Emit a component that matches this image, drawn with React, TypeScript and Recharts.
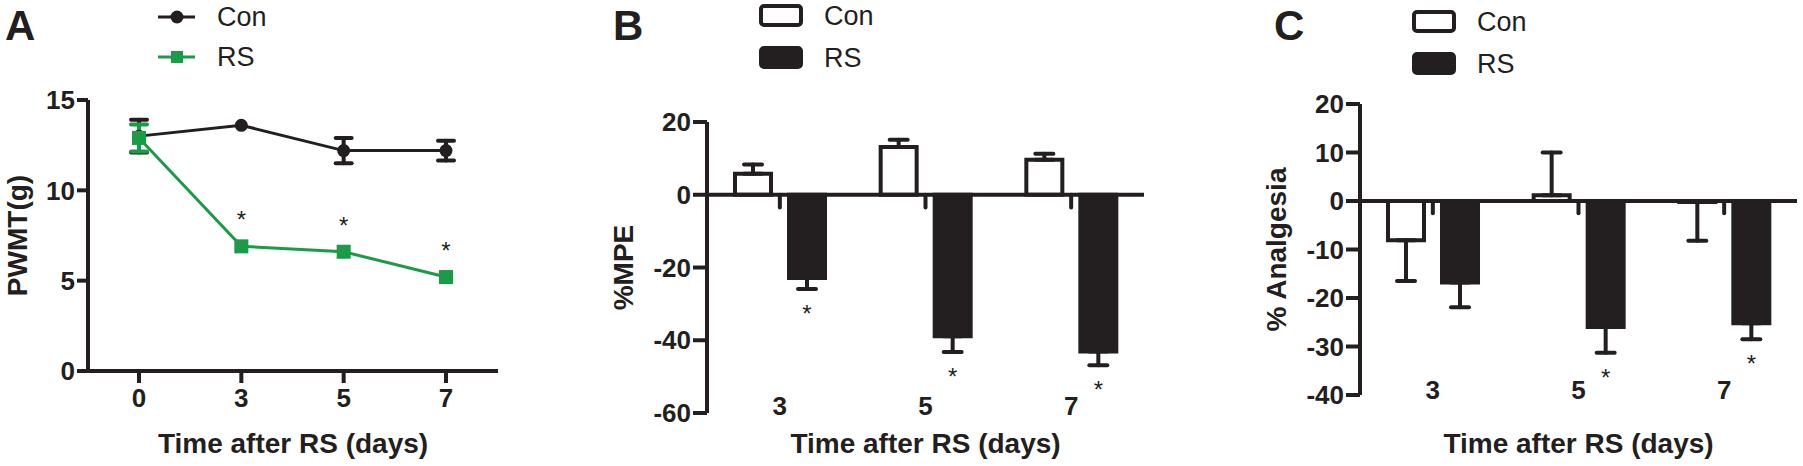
import React from 'react';
import {
  LineChart,
  Line,
  BarChart,
  Bar,
  XAxis,
  YAxis,
  ErrorBar,
  ReferenceLine,
  Legend,
  Label,
  LabelList,
} from 'recharts';

const FONT = "'Liberation Sans', Arial, Helvetica, sans-serif";
const INK = '#231f20';
const GREEN = '#1b9a48';

// ---------- Panel A: PWMT ----------
const daysA = ['0', '3', '5', '7'];
const conPwmt = [13.0, 13.6, 12.2, 12.2];
// null = error bar smaller than the symbol (not drawn in the original)
const conPwmtErr = [0.9, null, 0.7, 0.55];
const rsPwmt = [12.9, 6.9, 6.6, 5.2];
const rsPwmtErr = [0.75, null, null, null];
const rsPwmtSig = [false, true, true, true];
const ticksA = [0, 5, 10, 15];

// ---------- Panel B: %MPE ----------
const daysBC = ['3', '5', '7'];
const conMpe = [5.8, 13.1, 9.6];
const conMpeErr = [2.5, 2.0, 1.7];
const rsMpe = [-22.9, -38.9, -43.1];
const rsMpeErr = [3.0, 4.3, 3.8];
const rsMpeSig = [true, true, true];
const ticksB = [-60, -40, -20, 0, 20];

// ---------- Panel C: % Analgesia ----------
const conAnalgesia = [-8.1, 1.2, -0.2];
const conAnalgesiaErr = [8.4, 8.8, 8.0];
const rsAnalgesia = [-16.8, -26.0, -25.2];
const rsAnalgesiaErr = [5.1, 5.3, 3.3];
const rsAnalgesiaSig = [false, true, true];
const ticksC = [-40, -30, -20, -10, 0, 10, 20];

const seriesNames = ['Con', 'RS'];
const xTitle = 'Time after RS (days)';
const panelLetters = ['A', 'B', 'C'];

const oneSided = (v: number, e: number) => (v >= 0 ? [0, e] : [e, 0]);

const dataA = daysA.map((d, i) => ({
  day: d,
  Con: conPwmt[i],
  conErr: conPwmtErr[i],
  RS: rsPwmt[i],
  rsErr: rsPwmtErr[i],
}));

const buildBars = (con: number[], conE: number[], rs: number[], rsE: number[]) =>
  daysBC.map((d, i) => ({
    day: d,
    Con: con[i],
    conErr: oneSided(con[i], conE[i]),
    RS: rs[i],
    rsErr: oneSided(rs[i], rsE[i]),
  }));

const dataB = buildBars(conMpe, conMpeErr, rsMpe, rsMpeErr);
const dataC = buildBars(conAnalgesia, conAnalgesiaErr, rsAnalgesia, rsAnalgesiaErr);

const tickStyle = { fill: INK, fontSize: 26, fontWeight: 'bold', fontFamily: FONT };
const axisLineStyle = { stroke: INK, strokeWidth: 4 };

const yTitle = (text: string, dist: number) => (props: any) => {
  const vb = props.viewBox || {};
  const cx = vb.x + vb.width - dist;
  const cy = vb.y + vb.height / 2;
  return (
    <text
      x={cx}
      y={cy}
      transform={`rotate(-90 ${cx} ${cy})`}
      textAnchor="middle"
      dy="0.36em"
      fill={INK}
      fontSize={28}
      fontWeight="bold"
      fontFamily={FONT}
    >
      {text}
    </text>
  );
};

const xTitleContent = (dist: number) => (props: any) => {
  const vb = props.viewBox || {};
  return (
    <text
      x={vb.x + vb.width / 2}
      y={vb.y + dist}
      textAnchor="middle"
      fill={INK}
      fontSize={28}
      fontWeight="bold"
      fontFamily={FONT}
    >
      {xTitle}
    </text>
  );
};

const bottomTick = (lift: number) => (props: any) => (
  <text
    x={props.x}
    y={props.y - lift}
    textAnchor="middle"
    dominantBaseline="central"
    fill={INK}
    fontSize={26}
    fontWeight="bold"
    fontFamily={FONT}
  >
    {props.payload.value}
  </text>
);

const star = (x: number, centerY: number) => (
  <text x={x} y={centerY + 14} textAnchor="middle" fill={INK} fontSize={24} fontFamily={FONT}>
    *
  </text>
);

const lineStar = (props: any) => {
  const { x, y, index } = props;
  if (!rsPwmtSig[index] || x == null || y == null) return null;
  return star(x, y - 32);
};

const barStar = (sig: boolean[], errs: number[]) => (props: any) => {
  const { x, y, width, height, index, value } = props;
  if (!sig[index] || x == null) return null;
  const top = Math.min(y, y + height);
  const bottom = Math.max(y, y + height);
  const pxPerUnit = Math.abs(value) > 0 ? (bottom - top) / Math.abs(value) : 0;
  const cap = bottom + errs[index] * pxPerUnit;
  return star(x + width / 2, cap + 19);
};

const ConDot = (p: any) =>
  p.cx == null ? null : <circle key={`c${p.index}`} cx={p.cx} cy={p.cy} r={6.5} fill={INK} />;
const RsDot = (p: any) =>
  p.cx == null ? null : (
    <rect key={`r${p.index}`} x={p.cx - 7} y={p.cy - 7} width={14} height={14} fill={GREEN} />
  );

const legendText = (x: number, y: number, t: string) => (
  <text x={x} y={y} dominantBaseline="central" fill={INK} fontSize={27} fontFamily={FONT}>
    {t}
  </text>
);

const LineLegend = () => (
  <svg width={140} height={80} style={{ display: 'block' }}>
    {seriesNames.map((n, i) => {
      const cy = 17 + 40 * i;
      const c = i === 0 ? INK : GREEN;
      return (
        <g key={n}>
          <line x1={8} y1={cy} x2={45} y2={cy} stroke={c} strokeWidth={3} />
          {i === 0 ? (
            <circle cx={27} cy={cy} r={6.5} fill={c} />
          ) : (
            <rect x={21} y={cy - 6} width={12} height={12} fill={c} />
          )}
          {legendText(67, cy, n)}
        </g>
      );
    })}
  </svg>
);

const BarLegend = () => (
  <svg width={140} height={90} style={{ display: 'block' }}>
    {seriesNames.map((n, i) => {
      const by = 6 + 42 * i;
      return (
        <g key={n}>
          <rect
            x={10}
            y={by}
            width={40}
            height={19}
            rx={3}
            fill={i === 0 ? '#ffffff' : INK}
            stroke={INK}
            strokeWidth={4}
          />
          {legendText(73, by + 10, n)}
        </g>
      );
    })}
  </svg>
);

type BarPanelProps = {
  left: number;
  data: any[];
  domain: [number, number];
  ticks: number[];
  top: number;
  bottom: number;
  yLabel: string;
  tickDrop: number;
  labelLift: number;
  titleDist: number;
  sig: boolean[];
  errs: number[];
  legendTop: number;
};

const BarPanel = (p: BarPanelProps) => (
  <div style={{ position: 'absolute', left: p.left, top: 0 }}>
    <BarChart
      width={590}
      height={466}
      data={p.data}
      margin={{ top: p.top, right: 590 - 147 - 437, left: 0, bottom: 466 - p.bottom - 30 }}
      barSize={36}
      barGap={18}
      style={{ fontFamily: FONT }}
    >
      <XAxis
        dataKey="day"
        axisLine={false}
        tickLine={false}
        tickSize={0}
        tickMargin={0}
        height={30}
        interval={0}
        tick={bottomTick(p.labelLift)}
      >
        <Label content={xTitleContent(p.titleDist)} />
      </XAxis>
      <YAxis
        width={147}
        domain={p.domain}
        ticks={p.ticks}
        interval={0}
        tickSize={14}
        tickMargin={2}
        tick={tickStyle}
        axisLine={axisLineStyle}
        tickLine={axisLineStyle}
        allowDataOverflow
      >
        <Label content={yTitle(p.yLabel, 84)} />
      </YAxis>
      <Bar dataKey="Con" fill="#ffffff" stroke={INK} strokeWidth={4} isAnimationActive={false}>
        <ErrorBar dataKey="conErr" width={9} stroke={INK} strokeWidth={4} strokeLinecap="round" />
      </Bar>
      <Bar dataKey="RS" fill={INK} stroke={INK} strokeWidth={4} isAnimationActive={false}>
        <ErrorBar dataKey="rsErr" width={9} stroke={INK} strokeWidth={4} strokeLinecap="round" />
        <LabelList dataKey="RS" content={barStar(p.sig, p.errs)} />
      </Bar>
      <ReferenceLine y={0} stroke={INK} strokeWidth={4} />
      {daysBC.map((d) => (
        <ReferenceLine
          key={d}
          segment={[
            { x: d, y: 0 },
            { x: d, y: -p.tickDrop },
          ]}
          stroke={INK}
          strokeWidth={4}
          strokeLinecap="round"
        />
      ))}
      <Legend
        layout="vertical"
        align="center"
        verticalAlign="middle"
        wrapperStyle={{ left: 191, top: p.legendTop, width: 140 }}
        content={BarLegend}
      />
    </BarChart>
  </div>
);

export default function App() {
  return (
    <div
      style={{
        position: 'absolute',
        left: 0,
        top: 0,
        width: 1803,
        height: 466,
        background: '#ffffff',
        overflow: 'hidden',
        fontFamily: FONT,
      }}
    >
      <div style={{ position: 'absolute', left: 0, top: 0 }}>
        <LineChart
          width={520}
          height={466}
          data={dataA}
          margin={{ top: 100, right: 22, left: 0, bottom: 24 }}
          style={{ fontFamily: FONT }}
        >
          <XAxis
            dataKey="day"
            padding={{ left: 51, right: 52 }}
            height={71}
            tickSize={12}
            tickMargin={6}
            interval={0}
            axisLine={axisLineStyle}
            tickLine={axisLineStyle}
            tick={tickStyle}
          >
            <Label content={xTitleContent(82)} />
          </XAxis>
          <YAxis
            width={88}
            domain={[0, 15]}
            ticks={ticksA}
            interval={0}
            tickSize={11}
            tickMargin={2}
            axisLine={axisLineStyle}
            tickLine={axisLineStyle}
            tick={tickStyle}
          >
            <Label content={yTitle('PWMT(g)', 71)} />
          </YAxis>
          <Line
            dataKey="Con"
            stroke={INK}
            strokeWidth={3}
            dot={ConDot}
            activeDot={false}
            isAnimationActive={false}
          >
            <ErrorBar dataKey="conErr" width={8} stroke={INK} strokeWidth={4} strokeLinecap="round" />
          </Line>
          <Line
            dataKey="RS"
            stroke={GREEN}
            strokeWidth={3}
            dot={RsDot}
            activeDot={false}
            isAnimationActive={false}
          >
            <ErrorBar dataKey="rsErr" width={8} stroke={GREEN} strokeWidth={4} strokeLinecap="round" />
            <LabelList dataKey="RS" content={lineStar} />
          </Line>
          <Legend
            layout="vertical"
            align="center"
            verticalAlign="middle"
            wrapperStyle={{ left: 150, top: 0, width: 140 }}
            content={LineLegend}
          />
        </LineChart>
      </div>

      <BarPanel
        left={560}
        data={dataB}
        domain={[-60, 20]}
        ticks={ticksB}
        top={122}
        bottom={413}
        yLabel="%MPE"
        tickDrop={3.5}
        labelLift={7}
        titleDist={40}
        sig={rsMpeSig}
        errs={rsMpeErr}
        legendTop={0}
      />
      <BarPanel
        left={1213}
        data={dataC}
        domain={[-40, 20]}
        ticks={ticksC}
        top={104}
        bottom={395}
        yLabel="% Analgesia"
        tickDrop={2.5}
        labelLift={5}
        titleDist={58}
        sig={rsAnalgesiaSig}
        errs={rsAnalgesiaErr}
        legendTop={6}
      />

      <svg
        width={1803}
        height={466}
        style={{ position: 'absolute', left: 0, top: 0, pointerEvents: 'none' }}
      >
        {panelLetters.map((l, i) => (
          <text
            key={l}
            x={[5, 613, 1274][i]}
            y={[40, 40, 40][i]}
            fill={INK}
            fontSize={42}
            fontWeight="bold"
            fontFamily={FONT}
          >
            {l}
          </text>
        ))}
      </svg>
    </div>
  );
}
